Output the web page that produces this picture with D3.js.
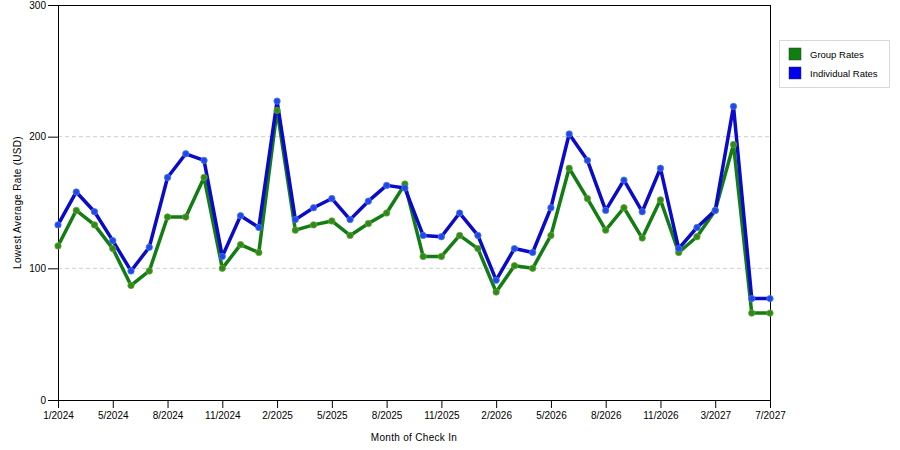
<!DOCTYPE html>
<html>
<head>
<meta charset="utf-8">
<script src="https://cdn.jsdelivr.net/npm/d3@7"></script>
<style>
  body { margin: 0; background: #fff; }
  svg { display: block; font-family: "Liberation Sans", Arial, sans-serif; }
</style>
</head>
<body>
<div id="chart"></div>
<script>
const months = [
  '1/2024', '2/2024', '3/2024', '5/2024', '6/2024', '7/2024', '8/2024', '9/2024', '10/2024', '11/2024',
  '12/2024', '1/2025', '2/2025', '3/2025', '4/2025', '5/2025', '6/2025', '7/2025', '8/2025', '9/2025',
  '10/2025', '11/2025', '12/2025', '1/2026', '2/2026', '3/2026', '4/2026', '5/2026', '6/2026', '7/2026',
  '8/2026', '9/2026', '10/2026', '11/2026', '12/2026', '1/2027', '3/2027', '4/2027', '6/2027', '7/2027'
]
const tickMonths = ['1/2024', '5/2024', '8/2024', '11/2024', '2/2025', '5/2025', '8/2025', '11/2025',
  '2/2026', '5/2026', '8/2026', '11/2026', '3/2027', '7/2027']

const groupRates = [117, 144, 133, 115, 87, 98, 139, 139, 169, 100,
  118, 112, 220, 129, 133, 136, 125, 134, 142, 164,
  109, 109, 125, 115, 82, 102, 100, 125, 176, 153,
  129, 146, 123, 152, 112, 124, 144, 194, 66, 66]
const individualRates = [133, 158, 143, 121, 98, 116, 169, 187, 182, 109,
  140, 131, 227, 137, 146, 153, 137, 151, 163, 161,
  125, 124, 142, 125, 91, 115, 112, 146, 202, 182,
  144, 167, 143, 176, 115, 131, 144, 223, 77, 77]

const series = [
  { name: 'Group Rates', values: groupRates, color: '#137d13', marker: '#2d8a1c', edge: '#6fa236', swatch: '#0f800f' },
  { name: 'Individual Rates', values: individualRates, color: '#0a0ac8', marker: '#1f48e6', edge: '#5078ee', swatch: '#0000ee' }
]

const width = 900, height = 450
const margin = { left: 58, right: 130, top: 5, bottom: 50 }
const plotW = width - margin.left - margin.right
const plotH = height - margin.top - margin.bottom

const svg = d3.select('#chart').append('svg')
  .attr('width', width).attr('height', height)

const x = d3.scalePoint().domain(months).range([0, plotW])
const y = d3.scaleLinear().domain([0, 300]).range([plotH, 0])

const g = svg.append('g').attr('transform', `translate(${margin.left},${margin.top})`)

// dashed grid
g.append('g').selectAll('line')
  .data([100, 200])
  .join('line')
  .attr('x1', 0).attr('x2', plotW)
  .attr('y1', d => y(d)).attr('y2', d => y(d))
  .attr('stroke', '#cfcfcf').attr('stroke-dasharray', '4,3')

// frame top/right
g.append('line').attr('x1', 0).attr('x2', plotW).attr('y1', 0.5).attr('y2', 0.5).attr('stroke', '#000')
g.append('line').attr('x1', plotW + 0.5).attr('x2', plotW + 0.5).attr('y1', 0).attr('y2', plotH).attr('stroke', '#000')

const yAxis = g.append('g')
  .call(d3.axisLeft(y).tickValues([0, 100, 200, 300]).tickSize(10).tickPadding(2))
yAxis.select('.domain').attr('stroke', '#000')
yAxis.selectAll('text').attr('font-size', 10).attr('fill', '#000')

const xAxis = g.append('g').attr('transform', `translate(0,${plotH})`)
  .call(d3.axisBottom(x).tickValues(tickMonths).tickSize(8).tickPadding(4).tickSizeOuter(0))
xAxis.select('.domain').attr('stroke', '#000')
xAxis.selectAll('text').attr('font-size', 10).attr('fill', '#000')

svg.append('text')
  .attr('x', margin.left + plotW / 2).attr('y', 441)
  .attr('text-anchor', 'middle').attr('font-size', 10)
  .attr('letter-spacing', 0.3)
  .text('Month of Check In')

svg.append('text')
  .attr('transform', `translate(21,${margin.top + plotH / 2}) rotate(-90)`)
  .attr('text-anchor', 'middle').attr('font-size', 10)
  .attr('letter-spacing', 0.3)
  .text('Lowest Average Rate (USD)')

const line = d3.line().x((d, i) => x(months[i])).y(d => y(d))

series.forEach(s => {
  g.append('path')
    .datum(s.values)
    .attr('fill', 'none')
    .attr('stroke', s.color)
    .attr('stroke-width', 3.5)
    .attr('stroke-linejoin', 'round')
    .attr('d', line)
})
series.forEach(s => {
  g.append('g').selectAll('circle')
    .data(s.values)
    .join('circle')
    .attr('cx', (d, i) => x(months[i]))
    .attr('cy', d => y(d))
    .attr('r', 3.2)
    .attr('fill', s.marker)
    .attr('stroke', s.edge)
    .attr('stroke-width', 0.8)
})

// legend
const legend = svg.append('g').attr('transform', 'translate(779,40)')
legend.append('rect')
  .attr('x', 0.5).attr('y', 0.5).attr('width', 110).attr('height', 47)
  .attr('fill', '#fff').attr('stroke', '#d8d8d8')
series.forEach((s, i) => {
  const row = legend.append('g').attr('transform', `translate(10,${8 + i * 19})`)
  row.append('rect').attr('width', 12).attr('height', 12)
    .attr('fill', s.swatch)
    .attr('stroke', '#333').attr('stroke-width', 0.5)
  row.append('text').attr('x', 21).attr('y', 10)
    .attr('font-size', 9.5).text(s.name)
})
</script>
</body>
</html>
